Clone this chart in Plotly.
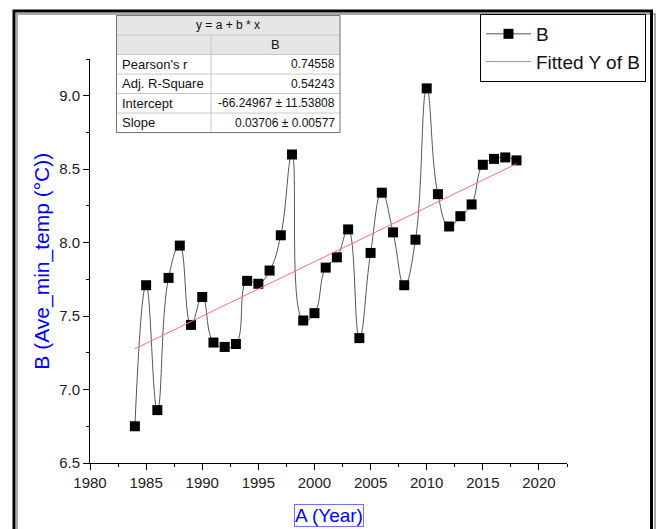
import plotly.graph_objects as go

# ---------------- data ----------------
years = [1984, 1985, 1986, 1987, 1988, 1989, 1990, 1991, 1992, 1993,
         1994, 1995, 1996, 1997, 1998, 1999, 2000, 2001, 2002, 2003,
         2004, 2005, 2006, 2007, 2008, 2009, 2010, 2011, 2012, 2013,
         2014, 2015, 2016, 2017, 2018]
temps = [6.75, 7.71, 6.86, 7.76, 7.98, 7.44, 7.63, 7.32, 7.29, 7.31,
         7.74, 7.72, 7.81, 8.05, 8.60, 7.47, 7.52, 7.83, 7.90, 8.09,
         7.35, 7.93, 8.34, 8.07, 7.71, 8.02, 9.05, 8.33, 8.11, 8.18,
         8.26, 8.53, 8.57, 8.58, 8.56]
fit_years = [1984, 2018]
fit_values = [7.277, 8.537]

table_title = "y = a + b * x"
table_col = "B"
table_labels = ["Pearson's r", "Adj. R-Square", "Intercept", "Slope"]
table_values = ["0.74558", "0.54243", "-66.24967 ± 11.53808", "0.03706 ± 0.00577"]

x_ticks = [1980, 1985, 1990, 1995, 2000, 2005, 2010, 2015, 2020]
y_ticks = [6.5, 7.0, 7.5, 8.0, 8.5, 9.0]

# ---------------- layout helpers ----------------
W, H = 657, 529
L, T = 90, 59
R = W - 567
B = H - 462.7
PW, PH = W - L - R, H - T - B


def px(xs):
    """screen x -> paper x"""
    return (xs - L) / PW


def py(ys):
    """screen y -> paper y"""
    return (H - B - ys) / PH


FONT = "Liberation Sans, Arial, sans-serif"

fig = go.Figure()
fig.add_trace(go.Scatter(
    x=years, y=temps, name="B", mode="lines+markers",
    line=dict(color="#555555", width=1, shape="spline", smoothing=1.3),
    marker=dict(symbol="square", size=10, color="black"),
))
fig.add_trace(go.Scatter(
    x=fit_years, y=fit_values, name="Fitted Y of B", mode="lines",
    line=dict(color="#ff7070", width=1),
))

shapes = []
annotations = []

# outer frame with shadow
shapes.append(dict(type="rect", xref="paper", yref="paper",
                   x0=px(17), x1=px(655), y0=py(545), y1=py(14),
                   line=dict(color="#a8a8a8", width=2), layer="below"))
shapes.append(dict(type="rect", xref="paper", yref="paper",
                   x0=px(14), x1=px(651.5), y0=py(545), y1=py(11),
                   line=dict(color="black", width=3), layer="below"))

# table
tx0, tx1, tmid = 116.5, 340, 211
ty0, rh = 15.5, 19.5
rows_y = [ty0 + i * rh for i in range(7)]
shapes.append(dict(type="rect", xref="paper", yref="paper",
                   x0=px(tx0), x1=px(tx1), y0=py(rows_y[2]), y1=py(rows_y[0]),
                   fillcolor="#e6e6e6", line=dict(width=0)))
shapes.append(dict(type="rect", xref="paper", yref="paper",
                   x0=px(tx0), x1=px(tx1), y0=py(rows_y[6]), y1=py(rows_y[2]),
                   fillcolor="white", line=dict(width=0)))
for yy in rows_y[1:6]:
    shapes.append(dict(type="line", xref="paper", yref="paper",
                       x0=px(tx0), x1=px(tx1), y0=py(yy), y1=py(yy),
                       line=dict(color="#c8c8c8", width=1)))
shapes.append(dict(type="line", xref="paper", yref="paper",
                   x0=px(tmid), x1=px(tmid), y0=py(rows_y[6]), y1=py(rows_y[1]),
                   line=dict(color="#c8c8c8", width=1)))
shapes.append(dict(type="rect", xref="paper", yref="paper",
                   x0=px(tx0), x1=px(tx1), y0=py(rows_y[6]), y1=py(rows_y[0]),
                   line=dict(color="#707070", width=1)))

tfont = dict(family=FONT, size=12, color="#111111")
lfont = dict(family=FONT, size=13, color="#111111")
annotations.append(dict(xref="paper", yref="paper", x=px((tx0 + tx1) / 2),
                        y=py((rows_y[0] + rows_y[1]) / 2), text=table_title,
                        showarrow=False, font=tfont, xanchor="center", yanchor="middle"))
annotations.append(dict(xref="paper", yref="paper", x=px((tmid + tx1) / 2),
                        y=py((rows_y[1] + rows_y[2]) / 2), text=table_col,
                        showarrow=False, font=lfont, xanchor="center", yanchor="middle"))
for i, (lab, val) in enumerate(zip(table_labels, table_values)):
    yc = py((rows_y[2 + i] + rows_y[3 + i]) / 2)
    annotations.append(dict(xref="paper", yref="paper", x=px(tx0 + 3), y=yc,
                            text=lab, showarrow=False, font=lfont,
                            xanchor="left", yanchor="middle"))
    annotations.append(dict(xref="paper", yref="paper", x=px(tx1 - 3), y=yc,
                            text=val, showarrow=False, font=tfont,
                            xanchor="right", yanchor="middle"))

# axis titles
annotations.append(dict(xref="paper", yref="paper", x=px(329), y=py(515),
                        text="A (Year)", showarrow=False,
                        font=dict(family=FONT, size=19, color="#0000ff"),
                        xanchor="center", yanchor="middle",
                        bordercolor="#7070ff", borderwidth=1, borderpad=0))
annotations.append(dict(xref="paper", yref="paper", x=px(42.5), y=py(261),
                        text="B (Ave_min_temp (°C))", showarrow=False, textangle=-90,
                        font=dict(family=FONT, size=21, color="#0000ff"),
                        xanchor="center", yanchor="middle"))

axis_common = dict(showgrid=False, zeroline=False, showline=True, linecolor="black",
                   linewidth=1, ticks="outside", ticklen=6, tickwidth=1, tickcolor="black",
                   tickfont=dict(family=FONT, size=15, color="#222222"))

fig.update_layout(
    width=W, height=H,
    margin=dict(l=L, r=R, t=T, b=B, autoexpand=False),
    paper_bgcolor="white", plot_bgcolor="white",
    xaxis=dict(range=[1980, 2022.5], tickvals=x_ticks, ticktext=[str(v) for v in x_ticks],
               minor=dict(dtick=2.5, tick0=1980, ticklen=3, ticks="outside", tickcolor="black", showgrid=False),
               **axis_common),
    yaxis=dict(range=[6.5, 9.25], tickvals=y_ticks, ticktext=[f"{v:.1f}" for v in y_ticks],
               minor=dict(dtick=0.25, tick0=6.5, ticklen=3, ticks="outside", tickcolor="black", showgrid=False),
               **axis_common),
    showlegend=True,
    legend=dict(x=px(480), y=py(14), xanchor="left", yanchor="top",
                bordercolor="black", borderwidth=1, bgcolor="white",
                font=dict(family=FONT, size=19, color="#111111"),
                tracegroupgap=0, itemwidth=45),
    shapes=shapes,
    annotations=annotations,
)

fig.write_html(
    "out.html",
    config={"displayModeBar": False},
    post_script="document.body.style.margin='0';document.body.style.overflow='hidden';",
)
